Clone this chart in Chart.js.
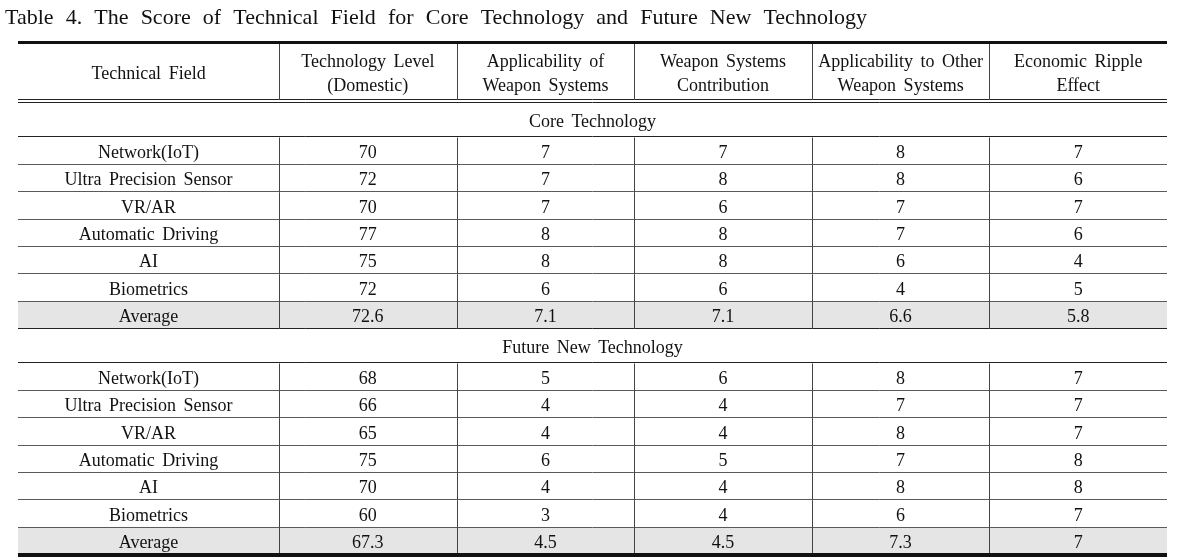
<!DOCTYPE html>
<html>
<head>
<meta charset="utf-8">
<script src="https://cdn.jsdelivr.net/npm/chart.js@4.4.0/dist/chart.umd.min.js"></script>
<style>
  html, body { margin: 0; padding: 0; background: #fff; }
  #wrap { width: 1187px; height: 560px; }
</style>
</head>
<body>
<div id="wrap"><canvas id="table-chart" width="1187" height="560"></canvas></div>
<script>
const title = 'Table 4. The Score of Technical Field for Core Technology and Future New Technology';
const columns = [
  ['Technical Field'],
  ['Technology Level', '(Domestic)'],
  ['Applicability of', 'Weapon Systems'],
  ['Weapon Systems', 'Contribution'],
  ['Applicability to Other', 'Weapon Systems'],
  ['Economic Ripple', 'Effect'],
];
const sections = ['Core Technology', 'Future New Technology'];
const fields = ['Network(IoT)', 'Ultra Precision Sensor', 'VR/AR', 'Automatic Driving', 'AI', 'Biometrics', 'Average'];

// Core Technology
const coreLevel = [70, 72, 70, 77, 75, 72, 72.6];
const coreApplicability = [7, 7, 7, 8, 8, 6, 7.1];
const coreContribution = [7, 8, 6, 8, 8, 6, 7.1];
const coreOther = [8, 8, 7, 7, 6, 4, 6.6];
const coreRipple = [7, 6, 7, 6, 4, 5, 5.8];

// Future New Technology
const futureLevel = [68, 66, 65, 75, 70, 60, 67.3];
const futureApplicability = [5, 4, 4, 6, 4, 3, 4.5];
const futureContribution = [6, 4, 4, 5, 4, 4, 4.5];
const futureOther = [8, 7, 8, 7, 8, 6, 7.3];
const futureRipple = [7, 7, 7, 8, 8, 7, 7];

const sectionSeries = [
  [coreLevel, coreApplicability, coreContribution, coreOther, coreRipple],
  [futureLevel, futureApplicability, futureContribution, futureOther, futureRipple],
];

// column widths in scale units (first column is wider)
const colWidths = [1.47, 1, 1, 1, 1, 1];
const headerUnits = 2.23;
const sectionUnits = 1.26;

const colEdges = [0];
colWidths.forEach(w => colEdges.push(colEdges[colEdges.length - 1] + w));

// build row list
const rows = [{ kind: 'header', h: headerUnits }];
sections.forEach((name, s) => {
  rows.push({ kind: 'section', h: sectionUnits, label: name });
  fields.forEach((f, i) => {
    rows.push({
      kind: 'data',
      h: 1,
      avg: f === 'Average',
      cells: [f].concat(sectionSeries[s].map(arr => String(arr[i]))),
    });
  });
});
let acc = 0;
rows.forEach(r => { r.y0 = acc; acc += r.h; r.y1 = acc; });
const totalUnits = acc;

const FONT = '18px "Liberation Serif", "Times New Roman", serif';
const TITLE_FONT = '22px "Liberation Serif", "Times New Roman", serif';

const tablePlugin = {
  id: 'tableDraw',
  afterDraw(chart) {
    const ctx = chart.ctx;
    const xs = chart.scales.x;
    const ys = chart.scales.y;
    const left = xs.getPixelForValue(colEdges[0]);
    const right = xs.getPixelForValue(colEdges[colEdges.length - 1]);
    const px = v => xs.getPixelForValue(v);
    const py = v => ys.getPixelForValue(v);

    ctx.save();

    // title, spread out to the width of the printed caption
    ctx.font = TITLE_FONT;
    ctx.fillStyle = '#111';
    ctx.textBaseline = 'middle';
    ctx.textAlign = 'left';
    ctx.wordSpacing = '0px';
    const tw = ctx.measureText(title).width;
    const spaces = title.split(' ').length - 1;
    ctx.wordSpacing = Math.max(0, (862 - tw) / spaces) + 'px';
    ctx.fillText(title, 5, 18);

    // grey average rows
    rows.forEach(r => {
      if (r.avg) {
        ctx.fillStyle = '#e5e5e5';
        ctx.fillRect(left, py(r.y0), right - left, py(r.y1) - py(r.y0));
      }
    });

    // horizontal rules
    ctx.lineWidth = 1;
    rows.forEach((r, idx) => {
      const yb = Math.round(py(r.y1)) - 0.5;
      if (idx === rows.length - 1) return;
      if (r.kind === 'header') {
        ctx.strokeStyle = '#222';
        ctx.beginPath();
        ctx.moveTo(left, yb); ctx.lineTo(right, yb);
        ctx.moveTo(left, yb - 3); ctx.lineTo(right, yb - 3);
        ctx.stroke();
      } else {
        ctx.strokeStyle = r.kind === 'section' || r.avg ? '#222' : '#5a5a5a';
        ctx.beginPath();
        ctx.moveTo(left, yb); ctx.lineTo(right, yb);
        ctx.stroke();
      }
    });

    // vertical rules (not across section label rows)
    ctx.strokeStyle = '#444';
    rows.forEach(r => {
      if (r.kind === 'section') return;
      const top = py(r.y0);
      let bot = py(r.y1);
      if (r.kind === 'header') bot -= 3;
      for (let c = 1; c < colEdges.length - 1; c++) {
        const x = Math.round(px(colEdges[c])) + 0.5;
        ctx.beginPath();
        ctx.moveTo(x, top); ctx.lineTo(x, bot);
        ctx.stroke();
      }
    });

    // thick top and bottom rules
    ctx.fillStyle = '#111';
    ctx.fillRect(left, Math.round(py(0)) - 1, right - left, 3);
    ctx.fillRect(left, Math.round(py(totalUnits)) - 2, right - left, 4);

    // cell text
    ctx.font = FONT;
    ctx.fillStyle = '#111';
    ctx.textAlign = 'center';
    ctx.textBaseline = 'middle';
    ctx.wordSpacing = '3px';
    rows.forEach(r => {
      const yc = (py(r.y0) + py(r.y1)) / 2;
      if (r.kind === 'header') {
        columns.forEach((lines, c) => {
          const xc = px((colEdges[c] + colEdges[c + 1]) / 2);
          const gap = 24;
          lines.forEach((t, k) => {
            const off = (k - (lines.length - 1) / 2) * gap;
            ctx.fillText(t, xc, yc + 2 + off);
          });
        });
      } else if (r.kind === 'section') {
        ctx.fillText(r.label, (left + right) / 2, yc + 2);
      } else {
        r.cells.forEach((t, c) => {
          const xc = px((colEdges[c] + colEdges[c + 1]) / 2);
          ctx.fillText(t, xc, yc + 2);
        });
      }
    });

    ctx.restore();
  },
};

new Chart(document.getElementById('table-chart'), {
  type: 'scatter',
  data: { datasets: [] },
  options: {
    responsive: false,
    animation: false,
    layout: { padding: { left: 18, right: 20, top: 42, bottom: 5 } },
    plugins: { legend: { display: false }, tooltip: { enabled: false }, title: { display: false } },
    scales: {
      x: { type: 'linear', display: false, min: 0, max: colEdges[colEdges.length - 1] },
      y: { type: 'linear', display: false, reverse: true, min: 0, max: totalUnits },
    },
  },
  plugins: [tablePlugin],
});
</script>
</body>
</html>
